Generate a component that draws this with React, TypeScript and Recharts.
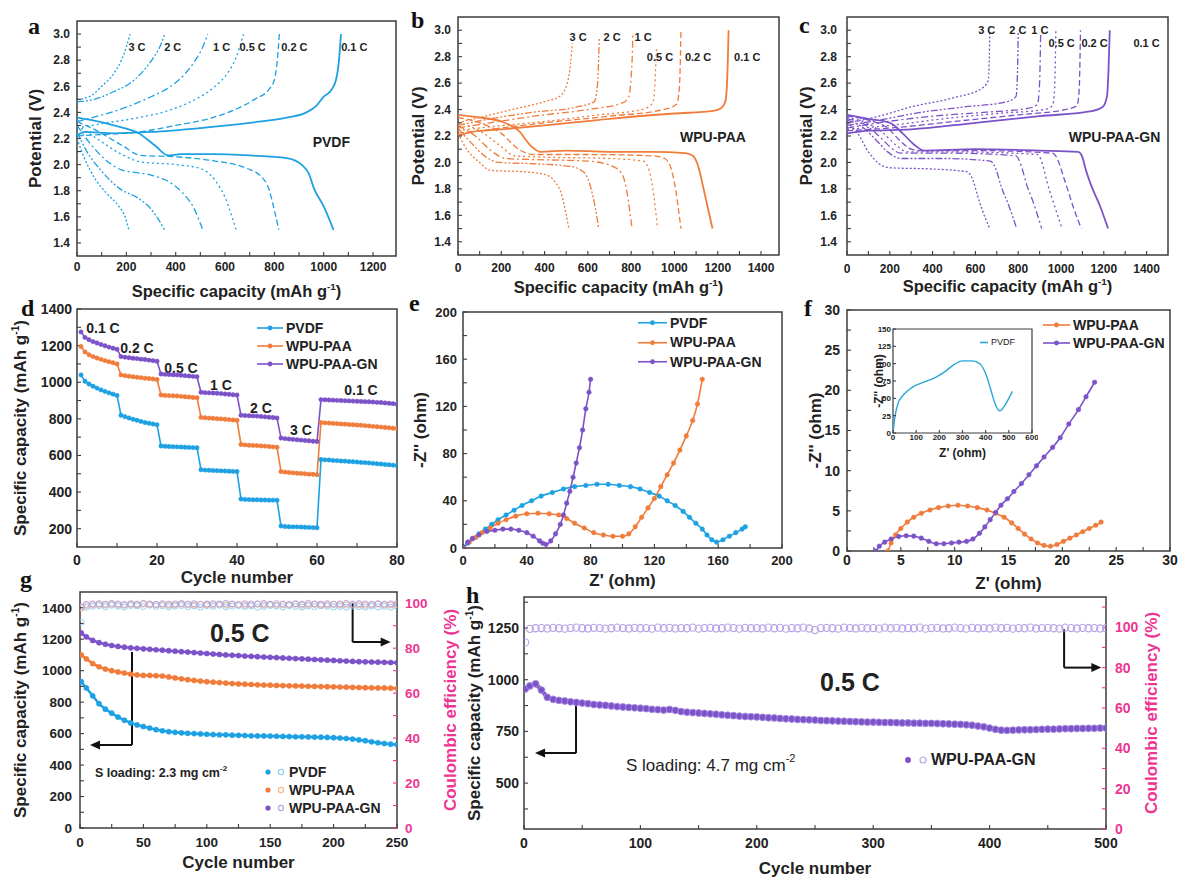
import React from 'react';
import { LineChart, Line, XAxis, YAxis, ReferenceArea, ReferenceDot, ReferenceLine, Legend, Label } from 'recharts';

const FONT = "'Liberation Sans', Arial, Helvetica, sans-serif";
const SERIF = "'Liberation Serif', 'Times New Roman', serif";
const INK = '#222222';
const FRAME = '#3c3c3c';
const BLUE = '#1da1e2';
const ORANGE = '#f07c3c';
const PURPLE = '#7b52c8';
const PINK = '#ee3592';
const CE_BLUE = '#8fd0f0';
const CE_ORANGE = '#f5b98f';
const CE_PURPLE = '#b6a0e6';

// ---------- panel a : PVDF ----------
const pvdfDis01 = [[0,2.36],[60,2.34],[150,2.3],[250,2.24],[320,2.14],[370,2.07],[420,2.08],[550,2.08],[700,2.07],[850,2.05],[910,2.0],[940,1.93],[960,1.82],[1000,1.68],[1040,1.5]];
const pvdfDis02 = [[0,2.33],[80,2.26],[180,2.15],[260,2.07],[400,2.06],[550,2.03],[690,1.97],[740,1.92],[780,1.8],[800,1.65],[818,1.5]];
const pvdfDis05 = [[0,2.3],[80,2.2],[180,2.08],[260,2.02],[400,2.0],[500,1.97],[560,1.88],[600,1.75],[625,1.62],[645,1.5]];
const pvdfDis1 = [[0,2.3],[50,2.17],[120,2.03],[180,1.96],[300,1.92],[380,1.86],[430,1.78],[470,1.68],[510,1.5]];
const pvdfDis2 = [[0,2.25],[40,2.1],[100,1.95],[170,1.82],[250,1.74],[300,1.66],[330,1.58],[355,1.5]];
const pvdfDis3 = [[0,2.2],[30,2.05],[70,1.9],[120,1.78],[170,1.68],[195,1.6],[210,1.5]];
const pvdfChg01 = [[0,2.22],[30,2.25],[150,2.24],[300,2.25],[500,2.28],[700,2.32],[850,2.36],[930,2.4],[970,2.45],[1000,2.52],[1030,2.57],[1050,2.65],[1062,2.8],[1070,3.0]];
const pvdfChg02 = [[0,2.22],[100,2.23],[250,2.25],[400,2.3],[550,2.36],[650,2.43],[720,2.5],[780,2.58],[800,2.65],[812,2.8],[820,3.0]];
const pvdfChg05 = [[0,2.28],[120,2.32],[250,2.36],[380,2.42],[480,2.5],[560,2.6],[610,2.7],[645,2.82],[675,3.0]];
const pvdfChg1 = [[0,2.33],[100,2.38],[200,2.44],[300,2.52],[380,2.6],[440,2.7],[480,2.8],[510,2.9],[530,3.0]];
const pvdfChg2 = [[0,2.48],[70,2.5],[150,2.56],[220,2.63],[270,2.72],[310,2.82],[340,2.92],[355,3.0]];
const pvdfChg3 = [[0,2.5],[50,2.52],[100,2.6],[150,2.7],[180,2.8],[200,2.9],[215,3.0]];

// ---------- panel b : WPU-PAA ----------
const paaDis01 = [[0,2.36],[100,2.34],[200,2.31],[280,2.24],[340,2.12],[380,2.08],[500,2.09],[700,2.08],[900,2.08],[1050,2.07],[1085,2.05],[1110,1.97],[1132,1.82],[1155,1.65],[1176,1.5]];
const paaDis02 = [[0,2.34],[100,2.3],[200,2.22],[280,2.1],[350,2.06],[600,2.06],[900,2.05],[955,2.03],[985,1.95],[1005,1.8],[1018,1.65],[1030,1.5]];
const paaDis05 = [[0,2.3],[100,2.24],[200,2.12],[260,2.05],[400,2.04],[700,2.03],[855,2.01],[885,1.93],[900,1.8],[912,1.65],[922,1.5]];
const paaDis1 = [[0,2.28],[80,2.2],[160,2.08],[220,2.03],[400,2.02],[600,2.01],[700,1.98],[755,1.92],[778,1.8],[792,1.65],[804,1.5]];
const paaDis2 = [[0,2.26],[60,2.15],[130,2.04],[190,2.0],[350,1.99],[520,1.97],[585,1.92],[615,1.8],[635,1.65],[650,1.5]];
const paaDis3 = [[0,2.22],[40,2.1],[100,2.0],[150,1.94],[300,1.93],[400,1.91],[450,1.85],[480,1.75],[498,1.62],[512,1.5]];
const paaChg01 = [[0,2.2],[60,2.23],[200,2.25],[400,2.28],[700,2.33],[1000,2.37],[1180,2.39],[1215,2.41],[1235,2.46],[1243,2.6],[1247,2.8],[1250,3.0]];
const paaChg02 = [[0,2.22],[150,2.25],[400,2.3],[700,2.35],[950,2.4],[1010,2.44],[1022,2.55],[1027,2.75],[1030,3.0]];
const paaChg05 = [[0,2.24],[150,2.27],[400,2.31],[650,2.36],[850,2.4],[900,2.45],[910,2.6],[914,2.75],[917,2.86]];
const paaChg1 = [[0,2.26],[150,2.3],[350,2.35],[600,2.4],[760,2.45],[790,2.5],[800,2.65],[805,2.8],[808,2.98]];
const paaChg2 = [[0,2.28],[150,2.33],[350,2.38],[550,2.42],[630,2.46],[645,2.6],[650,2.8],[653,2.95]];
const paaChg3 = [[0,2.3],[100,2.34],[250,2.4],[400,2.46],[470,2.5],[505,2.6],[520,2.75],[528,2.9]];

// ---------- panel c : WPU-PAA-GN ----------
const gnDis01 = [[0,2.36],[100,2.33],[200,2.3],[260,2.22],[310,2.14],[360,2.09],[600,2.1],[900,2.09],[1080,2.08],[1100,2.04],[1115,1.95],[1140,1.83],[1180,1.68],[1220,1.5]];
const gnDis02 = [[0,2.35],[100,2.32],[190,2.26],[250,2.16],[300,2.1],[340,2.09],[600,2.09],[960,2.07],[990,2.0],[1010,1.9],[1030,1.8],[1060,1.65],[1095,1.5]];
const gnDis05 = [[0,2.34],[90,2.3],[170,2.22],[230,2.13],[280,2.08],[500,2.08],[890,2.06],[915,1.98],[935,1.85],[960,1.72],[1005,1.5]];
const gnDis1 = [[0,2.33],[80,2.29],[150,2.2],[200,2.12],[250,2.07],[500,2.07],[790,2.05],[815,1.97],[840,1.83],[870,1.7],[910,1.5]];
const gnDis2 = [[0,2.32],[70,2.27],[130,2.18],[190,2.08],[250,2.03],[450,2.03],[670,2.01],[700,1.93],[720,1.82],[750,1.7],[793,1.5]];
const gnDis3 = [[0,2.3],[50,2.22],[100,2.08],[150,1.99],[200,1.96],[400,1.95],[560,1.93],[590,1.86],[610,1.75],[630,1.65],[667,1.5]];
const gnChg01 = [[0,2.22],[100,2.24],[300,2.25],[600,2.3],[900,2.35],[1150,2.39],[1195,2.42],[1215,2.5],[1222,2.7],[1228,3.0]];
const gnChg02 = [[0,2.24],[200,2.26],[500,2.31],[800,2.36],[1020,2.4],[1075,2.43],[1085,2.55],[1089,2.8],[1091,3.0]];
const gnChg05 = [[0,2.25],[200,2.28],[450,2.33],[700,2.37],[920,2.4],[960,2.43],[970,2.55],[974,2.8],[976,3.0]];
const gnChg1 = [[0,2.26],[150,2.3],[400,2.35],[650,2.38],[850,2.41],[890,2.44],[900,2.6],[903,2.8],[905,2.98]];
const gnChg2 = [[0,2.28],[150,2.32],[350,2.38],[550,2.42],[750,2.46],[790,2.5],[797,2.7],[800,2.98]];
const gnChg3 = [[0,2.3],[150,2.35],[300,2.42],[500,2.49],[630,2.56],[660,2.62],[665,2.8],[667,2.98]];

// ---------- tick labels (major) and minor tick positions ----------
const V_TICKS = [1.4, 1.6, 1.8, 2.0, 2.2, 2.4, 2.6, 2.8, 3.0];
const V_MINOR = [1.5, 1.7, 1.9, 2.1, 2.3, 2.5, 2.7, 2.9];
const CAP_TICKS_12 = [0, 200, 400, 600, 800, 1000, 1200];
const CAP_TICKS_14 = [0, 200, 400, 600, 800, 1000, 1200, 1400];
const CAP_MINOR = [100, 300, 500, 700, 900, 1100, 1300];
const D_X = [0, 20, 40, 60, 80];
const D_X_MINOR = [10, 30, 50, 70];
const D_Y = [200, 400, 600, 800, 1000, 1200, 1400];
const D_Y_MINOR = [300, 500, 700, 900, 1100, 1300];
const E_T = [0, 40, 80, 120, 160, 200];
const E_MINOR = [20, 60, 100, 140, 180];
const F_T = [0, 5, 10, 15, 20, 25, 30];
const F_MINOR = [2.5, 7.5, 12.5, 17.5, 22.5, 27.5];
const IN_X = [0, 100, 200, 300, 400, 500, 600];
const IN_Y = [0, 25, 50, 75, 100, 125, 150];
const G_X = [0, 50, 100, 150, 200, 250];
const G_X_MINOR = [25, 75, 125, 175, 225];
const G_Y = [0, 200, 400, 600, 800, 1000, 1200, 1400];
const G_Y_MINOR = [100, 300, 500, 700, 900, 1100, 1300];
const CE_T = [0, 20, 40, 60, 80, 100];
const CE_MINOR = [10, 30, 50, 70, 90];
const H_X = [0, 100, 200, 300, 400, 500];
const H_X_MINOR = [50, 150, 250, 350, 450];
const H_Y = [500, 750, 1000, 1250];
const H_Y_MINOR = [375, 625, 875, 1125, 1375];
const H_CE_MINOR = [10, 30, 50, 70, 90, 110];
const DASH = [undefined, '6 3', '2 3', '7 3 2 3', '7 2 2 2 2 2', '2 2'];

const aLabels: [string, number, number][] = [['3 C', 243, 2.9], ['2 C', 388, 2.9], ['1 C', 586, 2.9], ['0.5 C', 712, 2.9], ['0.2 C', 881, 2.9], ['0.1 C', 1124, 2.9]];
const bLabels: [string, number, number][] = [['3 C', 555, 2.95], ['2 C', 712, 2.95], ['1 C', 855, 2.95], ['0.5 C', 933, 2.8], ['0.2 C', 1109, 2.8], ['0.1 C', 1336, 2.8]];
const cLabels: [string, number, number][] = [['3 C', 653, 3.0], ['2 C', 798, 3.0], ['1 C', 901, 3.0], ['0.5 C', 1003, 2.9], ['0.2 C', 1157, 2.9], ['0.1 C', 1400, 2.9]];

// ---------- panel d : rate ----------
const dCycles = [1,2,3,4,5,6,7,8,9,10,11,12,13,14,15,16,17,18,19,20,21,22,23,24,25,26,27,28,29,30,31,32,33,34,35,36,37,38,39,40,41,42,43,44,45,46,47,48,49,50,51,52,53,54,55,56,57,58,59,60,61,62,63,64,65,66,67,68,69,70,71,72,73,74,75,76,77,78,79,80];
const dPVDF = [1040,1005,990,978,968,958,950,942,935,928, 820,812,805,798,792,786,780,776,772,768, 652,650,649,648,647,646,645,644,643,642, 522,520,519,518,517,516,515,514,513,512, 362,360,359,358,358,357,357,356,356,355, 215,212,211,210,210,209,208,207,206,205, 578,576,575,573,572,570,569,567,566,564, 562,561,559,557,555,553,551,549,547,545];
const dPAA = [1195,1165,1150,1140,1132,1125,1118,1112,1106,1100, 1040,1036,1033,1030,1027,1025,1022,1020,1018,1015, 930,928,927,926,925,923,921,919,917,915, 808,806,804,803,801,800,798,796,794,792, 660,658,656,655,654,652,651,649,647,645, 512,509,507,505,503,502,500,498,497,495, 780,778,777,775,774,772,771,769,768,766, 765,763,761,759,757,755,753,751,749,747];
const dGN = [1275,1245,1232,1222,1214,1206,1199,1192,1186,1180, 1140,1137,1134,1131,1129,1126,1124,1121,1118,1115, 1045,1043,1042,1041,1040,1038,1036,1034,1032,1030, 945,943,942,941,940,938,936,934,932,930, 820,818,817,816,815,813,811,809,807,805, 695,692,690,688,686,684,682,680,678,676, 905,904,903,902,901,900,899,898,897,896, 895,894,893,892,890,889,887,885,883,880];
const dLabels: [string, number, number][] = [['0.1 C', 6.5, 1296], ['0.2 C', 15, 1187], ['0.5 C', 26, 1078], ['1 C', 36, 985], ['2 C', 46, 860], ['3 C', 56, 740], ['0.1 C', 71, 958]];

// ---------- panel e : EIS ----------
const ePVDF = [[0,0],[3,4],[6,8],[10,12],[14,16],[18,20],[22,24],[27,28],[32,32],[37,36],[43,40],[49,44],[56,47],[63,50],[70,52],[77,53],[84,54],[91,54],[98,53],[105,52],[111,50],[117,47],[123,44],[128,40],[133,36],[138,31],[142,26],[146,21],[150,16],[153,11],[156,7],[159,5],[163,7],[167,10],[171,13],[175,16],[177,18]];
const ePAA = [[0,0],[4,5],[8,9],[12,13],[17,17],[22,21],[27,24],[33,27],[40,29],[47,29.5],[54,29],[60,28],[65,25],[70,21],[76,17],[82,13],[88,11],[94,10],[100,10],[104,12],[108,18],[112,26],[116,34],[120,42],[124,52],[128,62],[132,72],[136,83],[140,95],[144,108],[147,122],[150,143]];
const eGN = [[0,0],[3,5],[6,8],[10,11],[15,14],[20,15],[25,16],[30,16],[35,15],[40,13],[44,10],[48,6],[50,4],[52,3],[55,6],[58,12],[61,20],[63,28],[65,38],[67,48],[69,60],[71,72],[73,85],[75,100],[77,118],[79,132],[80,143]];

// ---------- panel f : EIS zoom ----------
const fPAA = [[3.8,0],[4.1,1],[4.5,2],[5,2.8],[5.6,3.6],[6.2,4.2],[6.9,4.7],[7.7,5.1],[8.5,5.4],[9.4,5.6],[10.3,5.7],[11.2,5.6],[12.1,5.4],[13,5.1],[13.8,4.7],[14.6,4.2],[15.3,3.5],[15.9,2.8],[16.5,2.1],[17.1,1.5],[17.7,1.0],[18.3,0.7],[18.9,0.6],[19.5,0.8],[20.1,1.2],[20.7,1.6],[21.3,2.0],[21.9,2.4],[22.5,2.8],[23.1,3.2],[23.6,3.6]];
const fGN = [[2.7,0],[3.0,0.6],[3.5,1.1],[4.1,1.5],[4.8,1.8],[5.5,1.9],[6.2,1.85],[6.9,1.6],[7.6,1.2],[8.3,0.9],[9.0,0.9],[9.7,1.0],[10.4,1.1],[11.1,1.2],[11.7,1.5],[12.3,2.2],[12.8,3.0],[13.3,3.9],[13.8,4.8],[14.3,5.7],[14.9,6.5],[15.5,7.4],[16.2,8.4],[16.9,9.5],[17.6,10.6],[18.3,11.7],[19.1,12.9],[19.8,14.1],[20.6,15.8],[21.5,17.6],[22.2,19.2],[23.0,21.0]];
const insetPVDF = [[0,0],[5,15],[12,30],[22,43],[40,53],[60,60],[88,67],[130,73],[188,81],[230,90],[260,98],[300,104],[340,104],[370,101],[390,93],[405,81],[420,65],[440,43],[459,32],[470,34],[483,40],[500,50],[515,60]];

// ---------- panel g : cycling 2.3 mg ----------
const gCycles = [1,5,10,15,20,25,30,35,40,45,50,55,60,65,70,75,80,85,90,95,100,105,110,115,120,125,130,135,140,145,150,155,160,165,170,175,180,185,190,195,200,205,210,215,220,225,230,235,240,245,250];
const gPVDF = [930,890,840,790,755,730,705,685,668,655, 645,635,625,618,612,608,605,602,600,598, 596,594,592,592,590,589,588,586,585,585, 584,583,582,581,580,580,579,578,577,576, 574,572,569,565,560,555,548,542,537,533, 530];
const gPAA = [1100,1075,1045,1025,1010,1000,992,985,978,973, 970,970,968,966,960,954,948,943,938,934, 930,927,924,921,918,916,914,912,910,909, 908,906,905,904,903,902,901,900,899,898, 897,896,895,894,893,892,891,890,890,889, 888];
const gGN = [1240,1215,1192,1178,1168,1160,1154,1149,1145,1142, 1139,1136,1133,1130,1127,1124,1121,1118,1115,1112, 1109,1106,1103,1100,1098,1096,1093,1091,1089,1087, 1085,1083,1081,1079,1077,1075,1073,1071,1069,1067, 1065,1063,1061,1059,1057,1056,1055,1054,1053,1052, 1051];
const gCeP = [91.5,98.2,98.6,98.9,98.4,99.1,98.7,98.3,99.0,98.8, 98.5,99.2,98.6,98.9,98.4,98.7,99.0,98.5,98.8,98.3, 98.9,98.6,99.1,98.4,98.7,98.9,98.5,98.8,98.2,98.6, 99.0,98.7,98.4,98.9,98.6,98.3,98.8,98.5,98.9,98.7, 98.4,98.6,98.2,98.8,98.5,98.3,98.7,98.4,98.6,98.2, 98.5];
const gCeA = [97.8,99.0,99.3,99.5,99.2,99.6,99.4,99.1,99.5,99.3, 99.6,99.2,99.4,99.5,99.1,99.3,99.6,99.4,99.2,99.5, 99.3,99.4,99.6,99.2,99.5,99.3,99.1,99.4,99.6,99.3, 99.5,99.2,99.4,99.3,99.6,99.1,99.4,99.5,99.2,99.3, 99.6,99.4,99.2,99.5,99.3,99.1,99.4,99.6,99.3,99.2, 99.4];
const gCeG = [98.4,99.5,99.7,99.8,99.6,99.9,99.7,99.5,99.8,99.6, 99.9,99.7,99.5,99.8,99.6,99.7,99.9,99.6,99.8,99.5, 99.7,99.8,99.6,99.9,99.7,99.5,99.8,99.6,99.7,99.9, 99.6,99.8,99.7,99.5,99.8,99.6,99.9,99.7,99.6,99.8, 99.5,99.7,99.9,99.6,99.8,99.7,99.5,99.8,99.6,99.7, 99.8];

// ---------- panel h : cycling 4.7 mg ----------
const hCycles = [1,5,10,15,20,25,30,35,40,45, 50,55,60,65,70,75,80,85,90,95, 100,105,110,115,120,125,130,135,140,145, 150,155,160,165,170,175,180,185,190,195, 200,205,210,215,220,225,230,235,240,245, 250,255,260,265,270,275,280,285,290,295, 300,305,310,315,320,325,330,335,340,345, 350,355,360,365,370,375,380,385,390,395, 400,405,410,415,420,425,430,435,440,445, 450,455,460,465,470,475,480,485,490,495, 500];
const hGN = [955,970,980,950,915,905,900,897,893,890, 887,884,880,878,876,873,870,868,866,864, 862,860,857,855,853,856,852,846,843,841, 839,837,835,833,830,828,826,824,822,821, 820,818,816,815,813,811,810,808,807,806, 805,803,802,801,800,799,798,797,796,795, 795,794,793,793,792,791,791,790,790,789, 789,788,787,786,785,784,782,780,776,772, 766,760,756,755,756,757,758,758,759,760, 761,761,762,763,763,764,764,765,765,766, 766];
const hCe = [92.5,99.2,99.5,99.6,99.4,99.7,99.5,99.3,99.6,99.8, 99.5,99.4,99.7,99.6,99.3,99.5,99.8,99.6,99.4,99.7, 99.5,99.6,99.3,99.8,99.5,99.7,99.4,99.6,99.5,99.8, 99.3,99.6,99.7,99.4,99.5,99.8,99.6,99.3,99.7,99.5, 99.6,99.4,99.8,99.5,99.7,99.3,99.6,99.5,99.8,99.4, 98.6,99.6,99.7,99.5,99.3,99.8,99.6,99.4,99.7,99.5, 99.6,99.3,99.8,99.5,99.7,99.4,99.6,99.5,99.8,99.3, 99.6,99.7,99.4,99.5,99.8,99.6,99.3,99.7,99.5,99.6, 99.4,99.8,99.5,99.7,99.3,99.6,99.5,99.8,99.4,99.6, 99.7,99.5,99.3,99.8,99.6,99.4,99.7,99.5,99.6,99.4, 99.5];

// ---------- helpers ----------
type Rect = { x0: number; y0: number; x1: number; y1: number };
const pts = (a: number[][]) => a.map(([c, v]) => ({ c, v }));
const zip = (xs: number[], ys: number[]) => xs.map((c, i) => ({ c, v: ys[i] }));

function mkTick(majors: number[], fs: number, fill: string, orient: 'bottom' | 'side', fmt?: (v: number) => string) {
  return (p: any) => {
    const v = p.payload ? p.payload.value : undefined;
    if (typeof v !== 'number' || !majors.some((m) => Math.abs(m - v) < 1e-6)) return <g />;
    return (
      <text x={p.x} y={p.y} dy={orient === 'bottom' ? '0.71em' : '0.355em'} textAnchor={p.textAnchor} fontSize={fs} fontWeight={700} fill={fill} fontFamily={FONT}>
        {fmt ? fmt(v) : String(v)}
      </text>
    );
  };
}
const merge = (a: number[], b: number[]) => [...a, ...b].sort((x, y) => x - y);
function xAx(domain: number[], majors: number[], minors: number[], h: number, m: number, fs: number, ts = -4) {
  return { type: 'number' as const, dataKey: 'c', domain, ticks: merge(majors, minors), interval: 0 as const, allowDataOverflow: true, height: h, axisLine: false, tickSize: ts, tickMargin: m, tickLine: { stroke: FRAME, strokeWidth: 1.1 }, tick: mkTick(majors, fs, INK, 'bottom') };
}
function yAx(domain: number[], majors: number[], minors: number[], w: number, m: number, fs: number, fill = INK, ts = -4, fmt?: (v: number) => string) {
  return { type: 'number' as const, domain, ticks: merge(majors, minors), interval: 0 as const, allowDataOverflow: true, width: w, axisLine: false, tickSize: ts, tickMargin: m, tickLine: { stroke: fill === INK ? FRAME : fill, strokeWidth: 1.1 }, tick: mkTick(majors, fs, fill, 'side', fmt) };
}
function xTitle(node: React.ReactNode, dy: number, size: number) {
  return (p: any) => {
    const vb = p.viewBox || { x: 0, y: 0, width: 0 };
    return <text x={vb.x + vb.width / 2} y={vb.y + dy} textAnchor="middle" fontSize={size} fontWeight={700} fill={INK} fontFamily={FONT}>{node}</text>;
  };
}
function yTitle(node: React.ReactNode, dx: number, size: number, fill = INK) {
  return (p: any) => {
    const vb = p.viewBox || { x: 0, y: 0, height: 0 };
    const x = vb.x + dx;
    const y = vb.y + vb.height / 2;
    return <text x={x} y={y} transform={`rotate(-90 ${x} ${y})`} textAnchor="middle" fontSize={size} fontWeight={700} fill={fill} fontFamily={FONT}>{node}</text>;
  };
}
const capTitle = (size: number) => (
  <>
    <tspan>Specific capacity (mAh g</tspan>
    <tspan dy={-size * 0.4} fontSize={size * 0.6}>-1</tspan>
    <tspan dy={size * 0.4}>)</tspan>
  </>
);
function textDot(key: string, x: number, y: number, content: React.ReactNode, o: { size?: number; weight?: number; anchor?: string; fill?: string; yAxisId?: string } = {}) {
  const extra: any = o.yAxisId ? { yAxisId: o.yAxisId } : {};
  return (
    <ReferenceDot key={key} x={x} y={y} r={0} ifOverflow="visible" {...extra}
      shape={(p: any) => (
        <text x={p.cx} y={p.cy} textAnchor={(o.anchor || 'middle') as any} dominantBaseline="central" fontSize={o.size || 12} fontWeight={o.weight ?? 700} fill={o.fill || INK} fontFamily={FONT}>{content}</text>
      )} />
  );
}
function arrowHead(key: string, x: number, y: number, dir: 'left' | 'right', yAxisId: string) {
  return (
    <ReferenceDot key={key} x={x} y={y} r={0} yAxisId={yAxisId} ifOverflow="visible"
      shape={(p: any) => (
        <path d={dir === 'left' ? `M${p.cx},${p.cy} l10,-4.5 l0,9 z` : `M${p.cx},${p.cy} l-10,-4.5 l0,9 z`} fill="#111" />
      )} />
  );
}
function legendBox(o: { size: number; row: number; lw: number; dot: number; dual?: Record<string, string>; weight?: number }) {
  return (p: any) => (
    <div style={{ fontFamily: FONT, fontWeight: o.weight ?? 700, fontSize: o.size, color: INK, lineHeight: 1 }}>
      {(p.payload || []).filter((it: any) => it.type !== 'none' && it.value && it.value !== 'v').map((it: any) => (
        <div key={String(it.value)} style={{ display: 'flex', alignItems: 'center', height: o.row, whiteSpace: 'nowrap' }}>
          <svg width={o.lw} height={o.row} style={{ display: 'block', overflow: 'visible' }}>
            {o.dual ? (
              <>
                <circle cx={4} cy={o.row / 2} r={o.dot} fill={it.color} />
                <circle cx={o.lw - 5} cy={o.row / 2} r={o.dot} fill="none" stroke={o.dual[it.value]} strokeWidth={1.2} />
              </>
            ) : (
              <>
                <line x1={0} x2={o.lw} y1={o.row / 2} y2={o.row / 2} stroke={it.color} strokeWidth={1.6} />
                {o.dot > 0 && <circle cx={o.lw / 2} cy={o.row / 2} r={o.dot} fill={it.color} />}
              </>
            )}
          </svg>
          <span style={{ marginLeft: 3 }}>{it.value}</span>
        </div>
      ))}
    </div>
  );
}
// legend placed at page coordinates (pageLeft, pageTop) relative to the chart origin (ox, oy)
function legendEl(pageLeft: number, pageTop: number, ox: number, oy: number, content: any) {
  return <Legend layout="vertical" align="center" verticalAlign="middle" wrapperStyle={{ left: pageLeft - ox, top: pageTop - oy, width: 'auto', height: 'auto' }} content={content} />;
}

// ---------- charge/discharge panel ----------
type GCDProps = {
  r: Rect; L: number; T: number; Rt: number; B: number; xMax: number; xTicks: number[]; color: string;
  dis: number[][][]; chg: number[][][]; labels: [string, number, number][]; name: string; nameAt: [number, number];
  mx: number; my: number; tdy: number; tdx: number;
};
function GCD(p: GCDProps) {
  const { r, L, T, Rt, B } = p;
  const W = r.x1 - r.x0 + L + Rt;
  const H = r.y1 - r.y0 + T + B;
  const minors = CAP_MINOR.filter((v) => v < p.xMax);
  return (
    <div style={{ position: 'absolute', left: r.x0 - L, top: r.y0 - T }}>
      <LineChart width={W} height={H} margin={{ top: T, right: Rt, bottom: 0, left: 0 }}>
        <XAxis {...xAx([0, p.xMax], p.xTicks, minors, B, p.mx, 12)}>
          <Label content={xTitle(capTitle(16.5), p.tdy, 16.5)} />
        </XAxis>
        <YAxis {...yAx([1.3, 3.1], V_TICKS, V_MINOR, L, p.my, 12, INK, -4, (v: number) => v.toFixed(1))}>
          <Label content={yTitle('Potential (V)', p.tdx, 17)} />
        </YAxis>
        <ReferenceArea x1={0} x2={p.xMax} y1={1.3} y2={3.1} fill="none" stroke={FRAME} strokeWidth={1.5} />
        {p.dis.map((d, i) => (
          <Line key={'d' + i} data={pts(d)} dataKey="v" type="monotone" stroke={p.color} strokeWidth={i === 0 ? 1.8 : 1.3} strokeDasharray={DASH[i]} dot={false} activeDot={false} isAnimationActive={false} legendType="none" />
        ))}
        {p.chg.map((d, i) => (
          <Line key={'c' + i} data={pts(d)} dataKey="v" type="monotone" stroke={p.color} strokeWidth={i === 0 ? 1.8 : 1.3} strokeDasharray={DASH[i]} dot={false} activeDot={false} isAnimationActive={false} legendType="none" />
        ))}
        {p.labels.map(([t, x, y], i) => textDot('l' + i, x, y, t, { size: 11 }))}
        {textDot('nm', p.nameAt[0], p.nameAt[1], p.name, { size: 14 })}
      </LineChart>
    </div>
  );
}

// ---------- rate panel d ----------
function PanelD() {
  const r: Rect = { x0: 77, y0: 309, x1: 397, y1: 547 };
  const L = 70, T = 12, Rt = 14, B = 44;
  const ox = r.x0 - L, oy = r.y0 - T;
  const series = [
    { name: 'PVDF', color: BLUE, v: dPVDF },
    { name: 'WPU-PAA', color: ORANGE, v: dPAA },
    { name: 'WPU-PAA-GN', color: PURPLE, v: dGN },
  ];
  return (
    <div style={{ position: 'absolute', left: ox, top: oy }}>
      <LineChart width={r.x1 - r.x0 + L + Rt} height={r.y1 - r.y0 + T + B} margin={{ top: T, right: Rt, bottom: 0, left: 0 }}>
        <XAxis {...xAx([0, 80], D_X, D_X_MINOR, B, 12, 14)}>
          <Label content={xTitle('Cycle number', 36, 17)} />
        </XAxis>
        <YAxis {...yAx([100, 1400], D_Y, D_Y_MINOR, L, 9, 14)}>
          <Label content={yTitle(capTitle(17), 19, 17)} />
        </YAxis>
        <ReferenceArea x1={0} x2={80} y1={100} y2={1400} fill="none" stroke={FRAME} strokeWidth={1.5} />
        {series.map((s) => (
          <Line key={s.name} name={s.name} data={zip(dCycles, s.v)} dataKey="v" type="linear" stroke={s.color} strokeWidth={1.6} dot={{ r: 2.2, fill: s.color, stroke: s.color, strokeWidth: 0.5 }} activeDot={false} isAnimationActive={false} />
        ))}
        {dLabels.map(([t, x, y], i) => textDot('dl' + i, x, y, t, { size: 14 }))}
        {legendEl(257, 319, ox, oy, legendBox({ size: 14, row: 18, lw: 26, dot: 2.4 }))}
      </LineChart>
    </div>
  );
}

// ---------- EIS panel e ----------
function PanelE() {
  const r: Rect = { x0: 463, y0: 312, x1: 782, y1: 548 };
  const L = 63, T = 12, Rt = 14, B = 44;
  const ox = r.x0 - L, oy = r.y0 - T;
  const series = [
    { name: 'PVDF', color: BLUE, d: ePVDF },
    { name: 'WPU-PAA', color: ORANGE, d: ePAA },
    { name: 'WPU-PAA-GN', color: PURPLE, d: eGN },
  ];
  return (
    <div style={{ position: 'absolute', left: ox, top: oy }}>
      <LineChart width={r.x1 - r.x0 + L + Rt} height={r.y1 - r.y0 + T + B} margin={{ top: T, right: Rt, bottom: 0, left: 0 }}>
        <XAxis {...xAx([0, 200], E_T, E_MINOR, B, 12, 13)}>
          <Label content={xTitle("Z' (ohm)", 38, 17)} />
        </XAxis>
        <YAxis {...yAx([0, 200], E_T, E_MINOR, L, 10, 13)}>
          <Label content={yTitle("-Z'' (ohm)", 26, 17)} />
        </YAxis>
        <ReferenceArea x1={0} x2={200} y1={0} y2={200} fill="none" stroke={FRAME} strokeWidth={1.5} />
        {series.map((s) => (
          <Line key={s.name} name={s.name} data={pts(s.d)} dataKey="v" type="monotone" stroke={s.color} strokeWidth={1.6} dot={{ r: 2.3, fill: s.color, stroke: s.color, strokeWidth: 0.5 }} activeDot={false} isAnimationActive={false} />
        ))}
        {legendEl(638, 313, ox, oy, legendBox({ size: 14, row: 19.5, lw: 29, dot: 2.4 }))}
      </LineChart>
    </div>
  );
}

// ---------- EIS panel f + inset ----------
function PanelF() {
  const r: Rect = { x0: 847, y0: 310, x1: 1170, y1: 551 };
  const L = 57, T = 12, Rt = 8, B = 42;
  const ox = r.x0 - L, oy = r.y0 - T;
  const series = [
    { name: 'WPU-PAA', color: ORANGE, d: fPAA },
    { name: 'WPU-PAA-GN', color: PURPLE, d: fGN },
  ];
  return (
    <div style={{ position: 'absolute', left: ox, top: oy }}>
      <LineChart width={r.x1 - r.x0 + L + Rt} height={r.y1 - r.y0 + T + B} margin={{ top: T, right: Rt, bottom: 0, left: 0 }}>
        <XAxis {...xAx([0, 30], F_T, F_MINOR, B, 8, 14)}>
          <Label content={xTitle("Z' (ohm)", 38, 17)} />
        </XAxis>
        <YAxis {...yAx([0, 30], F_T, F_MINOR, L, 11, 14)}>
          <Label content={yTitle("-Z'' (ohm)", 31, 17)} />
        </YAxis>
        <ReferenceArea x1={0} x2={30} y1={0} y2={30} fill="none" stroke={FRAME} strokeWidth={1.5} />
        {series.map((s) => (
          <Line key={s.name} name={s.name} data={pts(s.d)} dataKey="v" type="monotone" stroke={s.color} strokeWidth={1.6} dot={{ r: 2.3, fill: s.color, stroke: s.color, strokeWidth: 0.5 }} activeDot={false} isAnimationActive={false} />
        ))}
        {legendEl(1043, 316, ox, oy, legendBox({ size: 14, row: 18, lw: 27, dot: 2.4 }))}
      </LineChart>
    </div>
  );
}
function Inset() {
  const r: Rect = { x0: 893, y0: 329, x1: 1032, y1: 433 };
  const L = 23, T = 5, Rt = 6, B = 28;
  const ox = r.x0 - L, oy = r.y0 - T;
  return (
    <div style={{ position: 'absolute', left: ox, top: oy }}>
      <LineChart width={r.x1 - r.x0 + L + Rt} height={r.y1 - r.y0 + T + B} margin={{ top: T, right: Rt, bottom: 0, left: 0 }}>
        <XAxis {...xAx([0, 600], IN_X, [], B, 4, 8, -3)}>
          <Label content={xTitle("Z' (ohm)", 24, 12)} />
        </XAxis>
        <YAxis {...yAx([0, 150], IN_Y, [], L, 5, 8, INK, -3)}>
          <Label content={yTitle("-Z'' (ohm)", 13, 12)} />
        </YAxis>
        <ReferenceArea x1={0} x2={600} y1={0} y2={150} fill="none" stroke={FRAME} strokeWidth={1.2} />
        <Line name="PVDF" data={pts(insetPVDF)} dataKey="v" type="monotone" stroke="#2aa6d8" strokeWidth={1.4} dot={false} activeDot={false} isAnimationActive={false} />
        {legendEl(980, 337, ox, oy, legendBox({ size: 9, row: 11, lw: 8, dot: 0, weight: 400 }))}
      </LineChart>
    </div>
  );
}

// ---------- cycling panel g ----------
function PanelG() {
  const r: Rect = { x0: 80, y0: 592, x1: 397, y1: 828 };
  const L = 80, T = 6, R = 68, B = 50;
  const ox = r.x0 - L, oy = r.y0 - T;
  const caps = [
    { name: 'PVDF', color: BLUE, v: gPVDF },
    { name: 'WPU-PAA', color: ORANGE, v: gPAA },
    { name: 'WPU-PAA-GN', color: PURPLE, v: gGN },
  ];
  const ces = [
    { key: 'ceP', color: CE_BLUE, v: gCeP },
    { key: 'ceA', color: CE_ORANGE, v: gCeA },
    { key: 'ceG', color: CE_PURPLE, v: gCeG },
  ];
  const dual = { 'PVDF': CE_BLUE, 'WPU-PAA': CE_ORANGE, 'WPU-PAA-GN': CE_PURPLE };
  return (
    <div style={{ position: 'absolute', left: ox, top: oy }}>
      <LineChart width={r.x1 - r.x0 + L + R} height={r.y1 - r.y0 + T + B} margin={{ top: T, right: 0, bottom: 0, left: 0 }}>
        <XAxis {...xAx([0, 250], G_X, G_X_MINOR, B, 13, 13.5)}>
          <Label content={xTitle('Cycle number', 40, 17)} />
        </XAxis>
        <YAxis yAxisId="L" {...yAx([0, 1500], G_Y, G_Y_MINOR, L, 12, 13.5)}>
          <Label content={yTitle(capTitle(17), 26, 17)} />
        </YAxis>
        <YAxis yAxisId="R" orientation="right" {...yAx([0, 105], CE_T, CE_MINOR, R, 12, 13.5, PINK)}>
          <Label content={yTitle('Coulombic efficiency (%)', 59, 17, PINK)} />
        </YAxis>
        <ReferenceArea yAxisId="L" x1={0} x2={250} y1={0} y2={1500} fill="none" stroke={FRAME} strokeWidth={1.5} />
        {ces.map((s) => (
          <Line key={s.key} yAxisId="R" data={zip(gCycles, s.v)} dataKey="v" type="linear" stroke="none" dot={{ r: 3, fill: 'none', stroke: s.color, strokeWidth: 1 }} activeDot={false} isAnimationActive={false} legendType="none" />
        ))}
        {caps.map((s) => (
          <Line key={s.name} yAxisId="L" name={s.name} data={zip(gCycles, s.v)} dataKey="v" type="linear" stroke={s.color} strokeWidth={2.5} dot={{ r: 2.6, fill: s.color, stroke: s.color, strokeWidth: 0.5 }} activeDot={false} isAnimationActive={false} />
        ))}
        {textDot('g05', 126, 1240, '0.5 C', { size: 25, yAxisId: 'L' })}
        {textDot('gsl', 11.8, 350, (<><tspan>S loading: 2.3 mg cm</tspan><tspan dy={-5} fontSize={8}>-2</tspan></>), { size: 12.5, anchor: 'start', yAxisId: 'L' })}
        <ReferenceLine yAxisId="L" segment={[{ x: 41, y: 1119 }, { x: 41, y: 528 }]} stroke="#111" strokeWidth={2} ifOverflow="visible" />
        <ReferenceLine yAxisId="L" segment={[{ x: 41, y: 528 }, { x: 12, y: 528 }]} stroke="#111" strokeWidth={2} ifOverflow="visible" />
        {arrowHead('ga1', 7.9, 528, 'left', 'L')}
        <ReferenceLine yAxisId="L" segment={[{ x: 215, y: 1430 }, { x: 215, y: 1182 }]} stroke="#111" strokeWidth={2} ifOverflow="visible" />
        <ReferenceLine yAxisId="L" segment={[{ x: 215, y: 1182 }, { x: 240, y: 1182 }]} stroke="#111" strokeWidth={2} ifOverflow="visible" />
        {arrowHead('ga2', 245, 1182, 'right', 'L')}
        {legendEl(264, 763, ox, oy, legendBox({ size: 14, row: 18, lw: 22, dot: 2.6, dual }))}
      </LineChart>
    </div>
  );
}

// ---------- cycling panel h ----------
function PanelH() {
  const r: Rect = { x0: 524, y0: 597, x1: 1106, y1: 829 };
  const L = 62, T = 6, R = 64, B = 49;
  const ox = r.x0 - L, oy = r.y0 - T;
  return (
    <div style={{ position: 'absolute', left: ox, top: oy }}>
      <LineChart width={r.x1 - r.x0 + L + R} height={r.y1 - r.y0 + T + B} margin={{ top: T, right: 0, bottom: 0, left: 0 }}>
        <XAxis {...xAx([0, 500], H_X, H_X_MINOR, B, 13, 14)}>
          <Label content={xTitle('Cycle number', 45, 17)} />
        </XAxis>
        <YAxis yAxisId="L" {...yAx([278, 1400], H_Y, H_Y_MINOR, L, 9, 14)}>
          <Label content={yTitle(capTitle(17), 18, 17)} />
        </YAxis>
        <YAxis yAxisId="R" orientation="right" {...yAx([0, 115], CE_T, H_CE_MINOR, R, 13, 14, PINK)}>
          <Label content={yTitle('Coulombic efficiency (%)', 51, 17, PINK)} />
        </YAxis>
        <ReferenceArea yAxisId="L" x1={0} x2={500} y1={278} y2={1400} fill="none" stroke={FRAME} strokeWidth={1.5} />
        <Line yAxisId="R" data={zip(hCycles, hCe)} dataKey="v" type="linear" stroke="none" dot={{ r: 3.6, fill: 'none', stroke: CE_PURPLE, strokeWidth: 1.1 }} activeDot={false} isAnimationActive={false} legendType="none" />
        <Line yAxisId="L" name="WPU-PAA-GN" data={zip(hCycles, hGN)} dataKey="v" type="linear" stroke={PURPLE} strokeWidth={4} dot={{ r: 3.4, fill: PURPLE, stroke: '#a58be0', strokeWidth: 1 }} activeDot={false} isAnimationActive={false} />
        {textDot('h05', 280, 989, '0.5 C', { size: 25, yAxisId: 'L' })}
        {textDot('hsl', 87.6, 587, (<><tspan>S loading: 4.7 mg cm</tspan><tspan dy={-7} fontSize={11}>-2</tspan></>), { size: 17, weight: 400, anchor: 'start', yAxisId: 'L' })}
        <ReferenceLine yAxisId="L" segment={[{ x: 44.7, y: 901 }, { x: 44.7, y: 645 }]} stroke="#111" strokeWidth={2} ifOverflow="visible" />
        <ReferenceLine yAxisId="L" segment={[{ x: 44.7, y: 645 }, { x: 14, y: 645 }]} stroke="#111" strokeWidth={2} ifOverflow="visible" />
        {arrowHead('ha1', 9.5, 645, 'left', 'L')}
        <ReferenceLine yAxisId="R" segment={[{ x: 464, y: 99 }, { x: 464, y: 80 }]} stroke="#111" strokeWidth={2} ifOverflow="visible" />
        <ReferenceLine yAxisId="R" segment={[{ x: 464, y: 80 }, { x: 490, y: 80 }]} stroke="#111" strokeWidth={2} ifOverflow="visible" />
        {arrowHead('ha2', 496, 80, 'right', 'R')}
        {legendEl(904, 750, ox, oy, legendBox({ size: 16, row: 20, lw: 24, dot: 3, dual: { 'WPU-PAA-GN': CE_PURPLE } }))}
      </LineChart>
    </div>
  );
}

const letters: [string, number, number][] = [['a', 28, 14], ['b', 411, 8], ['c', 799, 13], ['d', 21, 296], ['e', 409, 291], ['f', 804, 296], ['g', 20, 567], ['h', 466, 583]];

export default function App() {
  return (
    <div style={{ position: 'absolute', left: 0, top: 0, width: 1179, height: 878, background: '#ffffff', fontFamily: FONT, overflow: 'hidden' }}>
      <GCD r={{ x0: 77, y0: 21, x1: 396, y1: 256 }} L={67} T={8} Rt={14} B={44} xMax={1293} xTicks={CAP_TICKS_12} color={BLUE}
        dis={[pvdfDis01, pvdfDis02, pvdfDis05, pvdfDis1, pvdfDis2, pvdfDis3]} chg={[pvdfChg01, pvdfChg02, pvdfChg05, pvdfChg1, pvdfChg2, pvdfChg3]}
        labels={aLabels} name="PVDF" nameAt={[1031, 2.17]} mx={10.5} my={11} tdy={41} tdx={31} />
      <GCD r={{ x0: 458, y0: 17, x1: 779, y1: 255 }} L={58} T={8} Rt={14} B={44} xMax={1483} xTicks={CAP_TICKS_14} color={ORANGE}
        dis={[paaDis01, paaDis02, paaDis05, paaDis1, paaDis2, paaDis3]} chg={[paaChg01, paaChg02, paaChg05, paaChg1, paaChg2, paaChg3]}
        labels={bLabels} name="WPU-PAA" nameAt={[1178, 2.19]} mx={12} my={11} tdy={38} tdx={24} />
      <GCD r={{ x0: 847, y0: 17, x1: 1168, y1: 255 }} L={57} T={8} Rt={10} B={44} xMax={1500} xTicks={CAP_TICKS_14} color={PURPLE}
        dis={[gnDis01, gnDis02, gnDis05, gnDis1, gnDis2, gnDis3]} chg={[gnChg01, gnChg02, gnChg05, gnChg1, gnChg2, gnChg3]}
        labels={cLabels} name="WPU-PAA-GN" nameAt={[1250, 2.19]} mx={13} my={14} tdy={37} tdx={22} />
      <PanelD />
      <PanelE />
      <PanelF />
      <Inset />
      <PanelG />
      <PanelH />
      {letters.map(([t, x, y]) => (
        <div key={t} style={{ position: 'absolute', left: x, top: y, fontFamily: SERIF, fontWeight: 700, fontSize: 24, lineHeight: 1, color: '#111' }}>{t}</div>
      ))}
    </div>
  );
}
